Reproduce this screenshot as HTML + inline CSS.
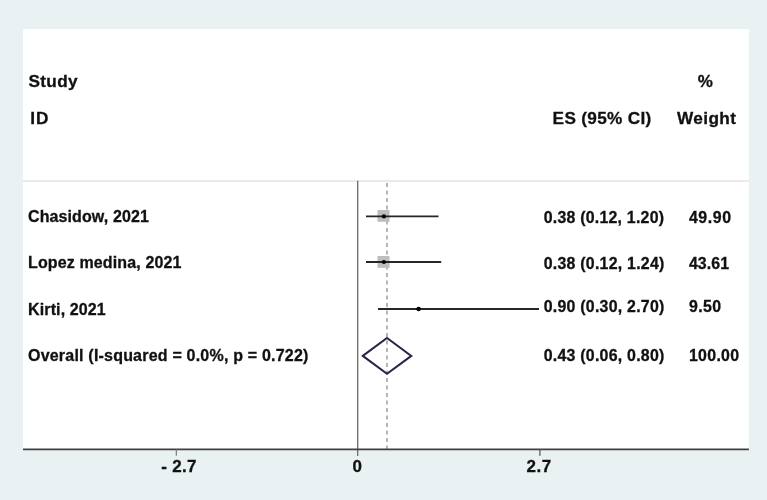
<!DOCTYPE html>
<html><head><meta charset="utf-8">
<style>
html,body{margin:0;padding:0;width:767px;height:500px;overflow:hidden;background:#eaf1f3;}
svg{display:block;will-change:transform;}
text{font-family:"Liberation Sans",sans-serif;font-weight:bold;fill:#111;stroke:#111;stroke-width:0.3px;}
</style></head><body>
<svg width="767" height="500" viewBox="0 0 767 500">
<rect x="0" y="0" width="767" height="500" fill="#eaf1f3"/>
<rect x="23" y="29.1" width="725.9" height="420.5" fill="#ffffff"/>
<rect x="23" y="180.2" width="725.9" height="1.7" fill="#e8e8e8"/>
<text x="28.40" y="86.60" font-size="17.2" textLength="49.17" lengthAdjust="spacing">Study</text>
<text x="30.30" y="124.10" font-size="17.2" textLength="18.24" lengthAdjust="spacing">ID</text>
<text x="697.80" y="86.70" font-size="17.0" textLength="14.65" lengthAdjust="spacing">%</text>
<text x="552.60" y="124.30" font-size="17.2" textLength="98.74" lengthAdjust="spacing">ES (95% CI)</text>
<text x="677.00" y="124.30" font-size="17.2" textLength="58.87" lengthAdjust="spacing">Weight</text>
<text x="28.00" y="222.40" font-size="16.0" textLength="120.80" lengthAdjust="spacing">Chasidow, 2021</text>
<text x="28.00" y="268.00" font-size="16.0" textLength="153.37" lengthAdjust="spacing">Lopez medina, 2021</text>
<text x="28.10" y="315.20" font-size="16.0" textLength="77.65" lengthAdjust="spacing">Kirti, 2021</text>
<text x="28.00" y="360.90" font-size="16.0" textLength="280.40" lengthAdjust="spacing">Overall (I-squared = 0.0%, p = 0.722)</text>
<text x="543.70" y="222.60" font-size="15.9" textLength="120.31" lengthAdjust="spacing">0.38 (0.12, 1.20)</text>
<text x="543.70" y="268.50" font-size="15.9" textLength="120.62" lengthAdjust="spacing">0.38 (0.12, 1.24)</text>
<text x="543.70" y="312.20" font-size="15.9" textLength="120.62" lengthAdjust="spacing">0.90 (0.30, 2.70)</text>
<text x="543.70" y="361.00" font-size="15.9" textLength="120.62" lengthAdjust="spacing">0.43 (0.06, 0.80)</text>
<text x="688.90" y="222.60" font-size="15.9" textLength="42.24" lengthAdjust="spacing">49.90</text>
<text x="688.90" y="268.50" font-size="15.9" textLength="40.23" lengthAdjust="spacing">43.61</text>
<text x="688.90" y="312.20" font-size="15.9" textLength="32.29" lengthAdjust="spacing">9.50</text>
<text x="688.90" y="361.00" font-size="15.9" textLength="50.22" lengthAdjust="spacing">100.00</text>
<text x="161.30" y="472.00" font-size="17.0" textLength="35.05" lengthAdjust="spacing">- 2.7</text>
<text x="352.60" y="472.00" font-size="17.0">0</text>
<text x="526.60" y="472.00" font-size="17.0" textLength="24.70" lengthAdjust="spacing">2.7</text>
<line x1="357.7" y1="180.8" x2="357.7" y2="456" stroke="#6a6a6a" stroke-width="1.3"/>
<line x1="387" y1="183" x2="387" y2="449" stroke="#808080" stroke-width="1.15" stroke-dasharray="3.9 3.6"/>
<rect x="377.5" y="210" width="12" height="11.8" fill="#bebebe"/>
<line x1="366" y1="216.4" x2="438.5" y2="216.4" stroke="#262626" stroke-width="1.9"/>
<circle cx="383.9" cy="216.4" r="2.1" fill="#000"/>
<rect x="377.5" y="256" width="12" height="11.8" fill="#bebebe"/>
<line x1="366" y1="262" x2="441.2" y2="262" stroke="#262626" stroke-width="1.9"/>
<circle cx="383.9" cy="262" r="2.1" fill="#000"/>
<line x1="378" y1="309" x2="539" y2="309" stroke="#262626" stroke-width="1.9"/>
<circle cx="418.6" cy="309" r="2.2" fill="#000"/>
<polygon points="362.8,355.9 387,338 411.3,355.9 387,373.8" fill="none" stroke="#262648" stroke-width="2"/>
<line x1="23" y1="449.4" x2="748.9" y2="449.4" stroke="#404040" stroke-width="1.6"/>
<line x1="176.3" y1="449" x2="176.3" y2="455.8" stroke="#707070" stroke-width="1.1"/>
<line x1="539.9" y1="449" x2="539.9" y2="455.8" stroke="#505050" stroke-width="1.2"/>
</svg>
</body></html>
